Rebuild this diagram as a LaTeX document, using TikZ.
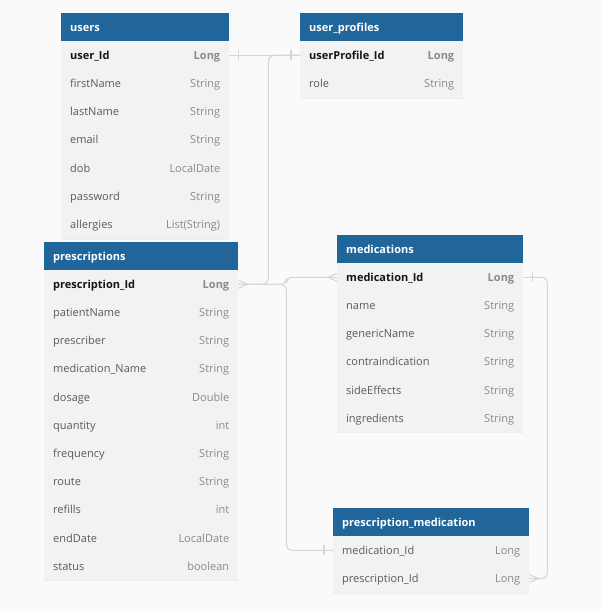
\documentclass[tikz,border=0pt]{standalone}
\usepackage{fontspec}
\setmainfont{Open Sans}
\usetikzlibrary{calc}
\definecolor{hdrblue}{HTML}{21669B}
\definecolor{rowgray}{HTML}{F2F2F2}
\definecolor{rowline}{HTML}{EDEDED}
\definecolor{pagebg}{HTML}{FAFAFA}
\definecolor{fldgray}{HTML}{5A5A5A}
\definecolor{typgray}{HTML}{8A8A8A}
\definecolor{pkblack}{HTML}{151515}
\definecolor{connc}{HTML}{D6D6D6}
\tikzset{
  hdrbox/.style={anchor=north west, minimum height=28pt, inner sep=0pt, fill=hdrblue, draw=none},
  hdrtxt/.style={anchor=base west, inner sep=0pt, text=white, font=\bfseries\fontsize{11}{13}\selectfont},
  rowbox/.style={anchor=north west, minimum height=28.2pt, inner sep=0pt, fill=rowgray, draw=none},
  fldtxt/.style={anchor=base west, inner sep=0pt, text=fldgray, font=\fontsize{11}{13}\selectfont},
  typtxt/.style={anchor=base east, inner sep=0pt, text=typgray, font=\fontsize{11}{13}\selectfont},
  pkfld/.style={anchor=base west, inner sep=0pt, text=pkblack, font=\bfseries\fontsize{11}{13}\selectfont},
  pktyp/.style={anchor=base east, inner sep=0pt, text=typgray, font=\bfseries\fontsize{11}{13}\selectfont},
  sepline/.style={draw=rowline, line width=0.5pt},
  conn/.style={draw=connc, line width=1.1pt, rounded corners=6pt},
  tickmark/.style={draw=connc, line width=1.1pt},
}
\newcommand{\ertable}[7]{%
  \node[hdrbox, minimum width=#4pt] (#1) at (#2pt,-#3pt) {};
  \node[hdrtxt] (#1-title) at ([xshift=9pt,yshift=-4pt]#1.west) {#5};
  \foreach \f/\t [count=\i] in {#7} {
    \pgfmathsetmacro\yy{#3+28+(\i-1)*28.2}
    \node[rowbox, minimum width=#4pt] (#1-\i) at (#2pt,-\yy pt) {};
    \draw[sepline] (#1-\i.south west) -- (#1-\i.south east);
    \ifnum\i=#6\relax
      \node[pkfld] (#1-\i-f) at ([xshift=9pt,yshift=-4pt]#1-\i.west) {\f};
      \node[pktyp] (#1-\i-t) at ([xshift=-9pt,yshift=-4pt]#1-\i.east) {\t};
    \else
      \node[fldtxt] (#1-\i-f) at ([xshift=9pt,yshift=-4pt]#1-\i.west) {\f};
      \node[typtxt] (#1-\i-t) at ([xshift=-9pt,yshift=-4pt]#1-\i.east) {\t};
    \fi
  }
}
\begin{document}
\begin{tikzpicture}
\fill[pagebg] (0,0) rectangle (601pt,-609pt);
\useasboundingbox (0,0) rectangle (601pt,-609pt);

\ertable{users}{61}{13}{168}{users}{1}{user\_Id/Long, firstName/String, lastName/String, email/String, dob/LocalDate, password/String, allergies/List(String)}
\ertable{up}{300}{13}{163}{user\_profiles}{1}{userProfile\_Id/Long, role/String}
\ertable{pr}{44}{242}{194}{prescriptions}{1}{prescription\_Id/Long, patientName/String, prescriber/String, medication\_Name/String, dosage/Double, quantity/int, frequency/String, route/String, refills/int, endDate/LocalDate, status/boolean}
\ertable{med}{337}{235}{186}{medications}{1}{medication\_Id/Long, name/String, genericName/String, contraindication/String, sideEffects/String, ingredients/String}
\ertable{pm}{333}{508}{196}{prescription\_medication}{0}{medication\_Id/Long, prescription\_Id/Long}

% connectors
\draw[conn] (users-1.east) -- (up-1.west);
\draw[conn] (pr-1.east) -- ++(30pt,0) |- (up-1.west);
\draw[conn] (pr-1.east) -- ++(48pt,0) |- (med-1.west);
\draw[conn] (pr-1.east) -- ++(48pt,0) |- (pm-1.west);
\draw[conn] (med-1.east) -- ++(24pt,0) |- (pm-2.east);

% one-ticks
\draw[tickmark] ([xshift=9pt,yshift=5pt]users-1.east) -- ([xshift=9pt,yshift=-5pt]users-1.east);
\draw[tickmark] ([xshift=-9pt,yshift=5pt]up-1.west) -- ([xshift=-9pt,yshift=-5pt]up-1.west);
\draw[tickmark] ([xshift=9pt,yshift=5pt]med-1.east) -- ([xshift=9pt,yshift=-5pt]med-1.east);
\draw[tickmark] ([xshift=-9pt,yshift=5pt]pm-1.west) -- ([xshift=-9pt,yshift=-5pt]pm-1.west);

% crow's feet
\draw[tickmark] ([yshift=4pt]pr-1.east) -- ([xshift=9pt]pr-1.east) -- ([yshift=-4pt]pr-1.east);
\draw[tickmark] ([yshift=4pt]med-1.west) -- ([xshift=-9pt]med-1.west) -- ([yshift=-4pt]med-1.west);
\draw[tickmark] ([yshift=4pt]pm-2.east) -- ([xshift=9pt]pm-2.east) -- ([yshift=-4pt]pm-2.east);
\end{tikzpicture}
\end{document}
